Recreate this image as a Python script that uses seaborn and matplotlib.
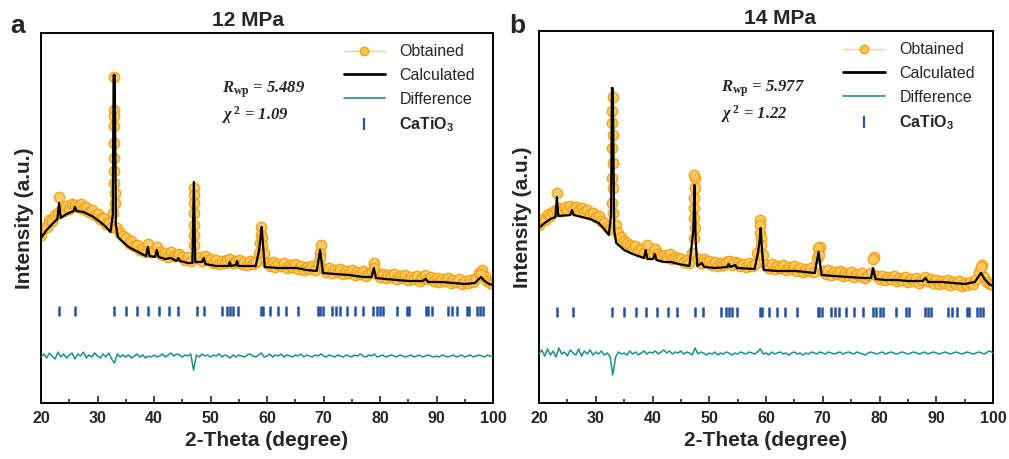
import numpy as np
import matplotlib
matplotlib.use("Agg")
import matplotlib.pyplot as plt
from matplotlib.lines import Line2D
import seaborn as sns

# 2-theta grid for observed / difference data (0.5 deg step)
grid_x = np.arange(20, 100.01, 0.5)

# CaTiO3 reflection positions (deg)
catio3_pos = [23.24, 26.0, 32.9, 35.0, 37.05, 38.9, 40.8, 42.7, 44.3, 47.55, 48.85,
              52.1, 52.9, 53.45, 54.0, 54.9, 58.9, 59.35, 60.5, 62.0, 63.4, 65.5,
              69.1, 69.4, 69.85, 71.45, 72.2, 72.9, 74.1, 75.55, 77.05, 78.8, 79.4,
              80.0, 80.6, 82.95, 84.7, 85.2, 88.1, 88.55, 89.15, 92.1, 92.7, 93.7,
              95.35, 95.8, 97.2, 97.7, 98.2]

# ---------------- 12 MPa ----------------
calc_x_12 = [20.0, 21.0, 22.0, 22.9, 23.2, 23.5, 24.5, 25.8, 26.0, 26.3, 27.5, 29.0, 30.5,
             31.5, 32.3, 32.7, 32.85, 33.05, 33.25, 33.6, 34.5, 35.5, 36.5, 37.5, 38.6,
             38.9, 39.2, 40.2, 40.5, 40.8, 42.0, 43.0, 44.0, 44.3, 44.6, 46.0, 46.8,
             47.05, 47.3, 48.5, 48.8, 49.1, 51.0, 53.2, 53.4, 53.6, 54.5, 54.7, 54.9,
             58.0, 58.6, 58.85, 59.05, 59.3, 59.6, 62.0, 65.3, 67.0, 68.8, 69.4, 69.9,
             72.0, 74.5, 77.0, 78.5, 78.9, 79.3, 81.0, 83.0, 85.0, 87.5, 88.1, 88.5,
             91.0, 93.0, 95.0, 96.8, 97.5, 97.9, 98.5, 99.3, 100.0]
calc_y_12 = [165, 173, 179, 184, 200, 185, 189, 192, 196, 192, 191, 187, 181,
             176, 171, 188, 328, 328, 178, 166, 161, 156, 153, 150, 147,
             156, 147, 146, 153, 146, 144, 145, 142, 145, 142, 140, 140,
             221, 141, 141, 145, 139, 137, 137, 141, 137, 138, 142, 137,
             137, 153, 165, 176, 158, 136, 135, 135, 133, 132, 153, 130,
             129, 128, 126, 126, 135, 125, 124, 123, 122, 122, 124, 121,
             121, 120, 119, 120, 124, 126, 122, 119, 118]
obs_y_12 = [168, 175, 176, 183, 182, 188, 190, 193, 192, 197,
            194, 199, 198, 196, 199, 194, 196, 191, 193, 188,
            189, 184, 185, 179, 180, 176, 326, 175, 170, 167,
            165, 160, 162, 157, 158, 153, 155, 151, 159, 151,
            152, 156, 151, 148, 150, 146, 151, 147, 148, 149,
            146, 143, 146, 142, 215, 145, 146, 142, 147, 143,
            144, 140, 143, 139, 142, 140, 143, 144, 140, 142,
            143, 139, 141, 138, 142, 139, 141, 150, 176, 150,
            140, 137, 141, 136, 139, 137, 140, 135, 138, 136,
            139, 134, 137, 133, 136, 134, 137, 133, 140, 158,
            134, 131, 135, 130, 133, 131, 134, 129, 132, 130,
            133, 128, 131, 129, 132, 127, 130, 132, 140, 129,
            126, 129, 125, 128, 126, 129, 124, 127, 125, 128,
            123, 126, 124, 127, 122, 125, 128, 124, 126, 122,
            125, 121, 124, 122, 125, 120, 123, 121, 124, 119,
            122, 120, 123, 121, 125, 130, 133, 127, 122, 120,
            119]
peak_x_12 = [23.2, 32.95, 32.95, 32.95, 33.0, 33.0, 32.9, 32.9, 33.05, 33.1, 32.8,
             47.05, 47.05, 47.1, 47.0, 47.1, 47.0, 58.8, 58.9, 59.1, 59.2,
             69.35, 69.3, 78.9, 97.9]
peak_y_12 = [206, 293, 287, 277, 260, 245, 232, 220, 210, 200, 190,
             208, 200, 190, 178, 168, 158, 160, 168, 165, 158,
             150, 145, 135, 129]
diff_y_12 = [46, 49, 45, 50, 47, 44, 51, 46, 49, 45,
             48, 50, 44, 49, 47, 51, 45, 48, 46, 50,
             47, 45, 49, 46, 50, 44, 40, 49, 46, 48,
             46, 48, 45, 47, 49, 46, 48, 45, 47, 46,
             48, 46, 47, 49, 46, 48, 50, 47, 49, 48,
             46, 48, 47, 49, 33, 48, 46, 49, 47, 48,
             46, 48, 47, 49, 46, 48, 47, 45, 48, 46,
             48, 47, 46, 48, 49, 47, 46, 48, 50, 46,
             47, 49, 46, 48, 47, 49, 46, 48, 47, 46,
             48, 47, 49, 46, 48, 47, 46, 48, 47, 49,
             47, 46, 48, 47, 46, 48, 47, 46, 48, 47,
             46, 48, 47, 49, 47, 46, 48, 47, 49, 46,
             47, 48, 46, 47, 48, 47, 46, 48, 47, 46,
             47, 48, 46, 47, 48, 46, 47, 48, 47, 46,
             47, 46, 48, 47, 46, 47, 48, 46, 47, 48,
             46, 47, 48, 46, 47, 48, 47, 46, 48, 47,
             47]

# ---------------- 14 MPa ----------------
calc_x_14 = [20.0, 21.0, 22.0, 22.9, 23.15, 23.4, 25.5, 25.8, 26.1, 27.5, 29.0, 30.5,
             31.5, 32.3, 32.7, 32.85, 33.0, 33.25, 33.6, 35.0, 36.5, 38.5, 38.8, 39.1,
             40.1, 40.4, 40.7, 42.0, 43.3, 44.5, 46.5, 47.2, 47.4, 47.6, 47.9, 48.7,
             49.1, 51.0, 53.2, 53.4, 53.7, 54.6, 54.9, 58.0, 58.6, 58.9, 59.05, 59.3,
             59.6, 62.0, 65.3, 68.6, 69.25, 69.8, 72.0, 74.5, 77.0, 78.5, 78.85, 79.3,
             81.0, 83.0, 85.0, 87.6, 88.1, 88.6, 91.0, 93.0, 95.0, 96.8, 97.5, 97.9,
             98.5, 99.3, 100.0]
calc_y_14 = [175, 180, 184, 186, 206, 187, 188, 193, 188, 186, 184, 180,
             174, 168, 188, 315, 315, 173, 160, 153, 149, 145, 153, 144,
             144, 149, 143, 141, 141, 139, 137, 173, 218, 163, 137, 140,
             136, 135, 136, 139, 136, 138, 135, 134, 151, 163, 175, 153,
             133, 132, 132, 130, 151, 128, 127, 126, 125, 125, 135, 124,
             123, 123, 122, 122, 125, 121, 121, 120, 119, 121, 127, 130,
             124, 119, 117]
obs_y_14 = [178, 184, 183, 189, 187, 191, 193, 195, 192, 196,
            193, 197, 194, 196, 193, 195, 191, 193, 189, 190,
            186, 187, 182, 180, 176, 174, 306, 178, 170, 166,
            162, 160, 158, 155, 157, 152, 154, 150, 158, 149,
            150, 154, 149, 147, 148, 146, 149, 144, 146, 145,
            144, 141, 143, 140, 150, 225, 144, 140, 144, 141,
            142, 138, 141, 137, 140, 138, 141, 142, 138, 141,
            140, 137, 139, 136, 140, 137, 139, 150, 183, 148,
            138, 135, 139, 134, 137, 135, 138, 133, 136, 134,
            137, 132, 135, 131, 134, 132, 135, 131, 145, 156,
            132, 129, 133, 128, 131, 129, 132, 127, 130, 128,
            131, 126, 129, 127, 130, 125, 128, 130, 146, 127,
            124, 127, 123, 126, 124, 127, 122, 125, 123, 126,
            121, 124, 122, 125, 120, 123, 126, 122, 124, 120,
            123, 119, 122, 120, 123, 118, 121, 119, 122, 117,
            120, 118, 121, 119, 124, 131, 138, 126, 121, 119,
            118]
peak_x_14 = [23.15, 32.95, 32.95, 33.0, 32.9, 33.0, 32.9, 33.05, 32.85, 33.1,
             47.4, 47.45, 47.35, 47.4, 47.35, 47.5, 47.3, 58.95, 59.0, 59.1, 59.2,
             69.25, 69.3, 78.85, 97.9]
peak_y_14 = [210, 292, 280, 268, 255, 240, 225, 215, 200, 190,
             228, 215, 205, 195, 185, 175, 165, 178, 170, 165, 158,
             155, 148, 144, 136]
diff_y_14 = [49, 53, 47, 54, 48, 52, 46, 55, 49, 51,
             47, 53, 50, 48, 54, 47, 52, 49, 53, 48,
             51, 49, 52, 48, 50, 47, 28, 46, 51, 49,
             50, 48, 52, 49, 51, 48, 50, 52, 49, 51,
             50, 52, 49, 51, 53, 50, 52, 49, 51, 50,
             52, 49, 51, 50, 48, 55, 49, 51, 50, 48,
             50, 49, 51, 48, 50, 49, 51, 50, 48, 50,
             49, 51, 50, 49, 51, 50, 49, 51, 54, 49,
             50, 48, 51, 49, 50, 51, 49, 50, 48, 50,
             51, 49, 50, 48, 50, 49, 51, 50, 49, 51,
             50, 49, 51, 50, 49, 50, 51, 49, 50, 51,
             50, 49, 51, 50, 49, 48, 50, 51, 50, 49,
             50, 51, 49, 50, 51, 50, 49, 50, 51, 50,
             49, 50, 51, 50, 49, 50, 51, 49, 50, 51,
             50, 49, 50, 51, 50, 49, 50, 51, 50, 49,
             50, 51, 50, 49, 50, 51, 50, 49, 51, 52,
             50]

OBS_FACE = '#fcc760'
OBS_EDGE = '#f2a008'
DIFF_COLOR = '#1f8f8a'
TICK_COLOR = '#2352a0'

sns.set_style('white')
plt.rcParams['font.family'] = ['Liberation Sans', 'DejaVu Sans']
plt.rcParams['mathtext.fontset'] = 'custom'
plt.rcParams['mathtext.it'] = 'Liberation Serif:italic:bold'
plt.rcParams['mathtext.rm'] = 'Liberation Serif:bold'
plt.rcParams['mathtext.bf'] = 'Liberation Sans:bold'

fig = plt.figure(figsize=(10.09, 4.59), dpi=100)
ax_a = fig.add_axes([41 / 1009, 56 / 459, 452 / 1009, 370 / 459])
ax_b = fig.add_axes([539 / 1009, 56 / 459, 454 / 1009, 372 / 459])

panels = [
    (ax_a, calc_x_12, calc_y_12, obs_y_12, peak_x_12, peak_y_12, diff_y_12, 92, 370,
     '12 MPa', 0.458, 'a', 10, '5.489', '1.09'),
    (ax_b, calc_x_14, calc_y_14, obs_y_14, peak_x_14, peak_y_14, diff_y_14, 91, 372,
     '14 MPa', 0.53, 'b', 509, '5.977', '1.22'),
]

for (ax, cx, cy, oy, px, py, dy, tick_y, ytop, title, tx, letter, lx, rwp, chi) in panels:
    obs_x = np.concatenate([grid_x, px])
    obs_y = np.concatenate([oy, py])
    sns.scatterplot(x=obs_x, y=obs_y, marker='o', s=56, color=OBS_FACE,
                    edgecolor=OBS_EDGE, linewidth=1.0, alpha=0.9, ax=ax, zorder=2)
    sns.lineplot(x=cx, y=cy, color='black', linewidth=1.6, estimator=None,
                 sort=False, ax=ax, zorder=3)
    sns.lineplot(x=grid_x, y=dy, color=DIFF_COLOR, linewidth=1.1, estimator=None,
                 sort=False, ax=ax, zorder=3)
    sns.scatterplot(x=catio3_pos, y=[tick_y] * len(catio3_pos), marker='|', s=60,
                    color=TICK_COLOR, linewidth=1.8, ax=ax, zorder=3)

    ax.set_xlim(20, 100)
    ax.set_ylim(0, ytop)
    ax.set_yticks([])
    ax.set_xticks(range(20, 101, 10))
    ax.set_xticks(range(25, 100, 10), minor=True)
    ax.tick_params(axis='x', which='major', direction='in', length=5, width=1.2,
                   labelsize=11.5, pad=6, bottom=True)
    ax.tick_params(axis='x', which='minor', direction='in', length=3, width=1.2,
                   bottom=True)
    for lab in ax.get_xticklabels():
        lab.set_fontweight('bold')
    for sp in ax.spines.values():
        sp.set_linewidth(1.4)
        sp.set_color('black')
    ax.set_xlabel('2-Theta (degree)', fontsize=15, fontweight='bold', labelpad=3)
    ax.set_ylabel('Intensity (a.u.)', fontsize=15, fontweight='bold', labelpad=5)

    ax.text(tx, 1.008, title, transform=ax.transAxes, ha='center', va='bottom',
            fontsize=15, fontweight='bold')
    fig.text(lx / 1009, 1 - 26 / 459, letter, ha='left', va='center',
             fontsize=19, fontweight='bold')

    ax.text(0.40, 0.846, r'$R_{\mathrm{wp}}$ = ' + rwp, transform=ax.transAxes,
            ha='left', va='center', fontsize=12, family='Liberation Serif',
            style='italic', fontweight='bold')
    ax.text(0.40, 0.778, r'$\chi^{\,2}$ = ' + chi, transform=ax.transAxes,
            ha='left', va='center', fontsize=12, family='Liberation Serif',
            style='italic', fontweight='bold')

    handles = [
        Line2D([], [], color='#fcd48a', lw=1.0, marker='o', markersize=6,
               markerfacecolor=OBS_FACE, markeredgecolor=OBS_EDGE),
        Line2D([], [], color='black', lw=2.0),
        Line2D([], [], color=DIFF_COLOR, lw=1.2),
        Line2D([], [], color=TICK_COLOR, lw=0, marker='|', markersize=9,
               markeredgewidth=1.6),
    ]
    leg = ax.legend(handles, ['Obtained', 'Calculated', 'Difference', r'CaTiO$_\mathbf{3}$'],
                    loc='upper right', frameon=False, fontsize=11.5,
                    handlelength=2.6, labelspacing=0.55, handletextpad=0.9,
                    bbox_to_anchor=(0.985, 1.0), borderaxespad=0.3)
    leg.get_texts()[3].set_fontweight('bold')

fig.savefig('out.png', dpi=100)
